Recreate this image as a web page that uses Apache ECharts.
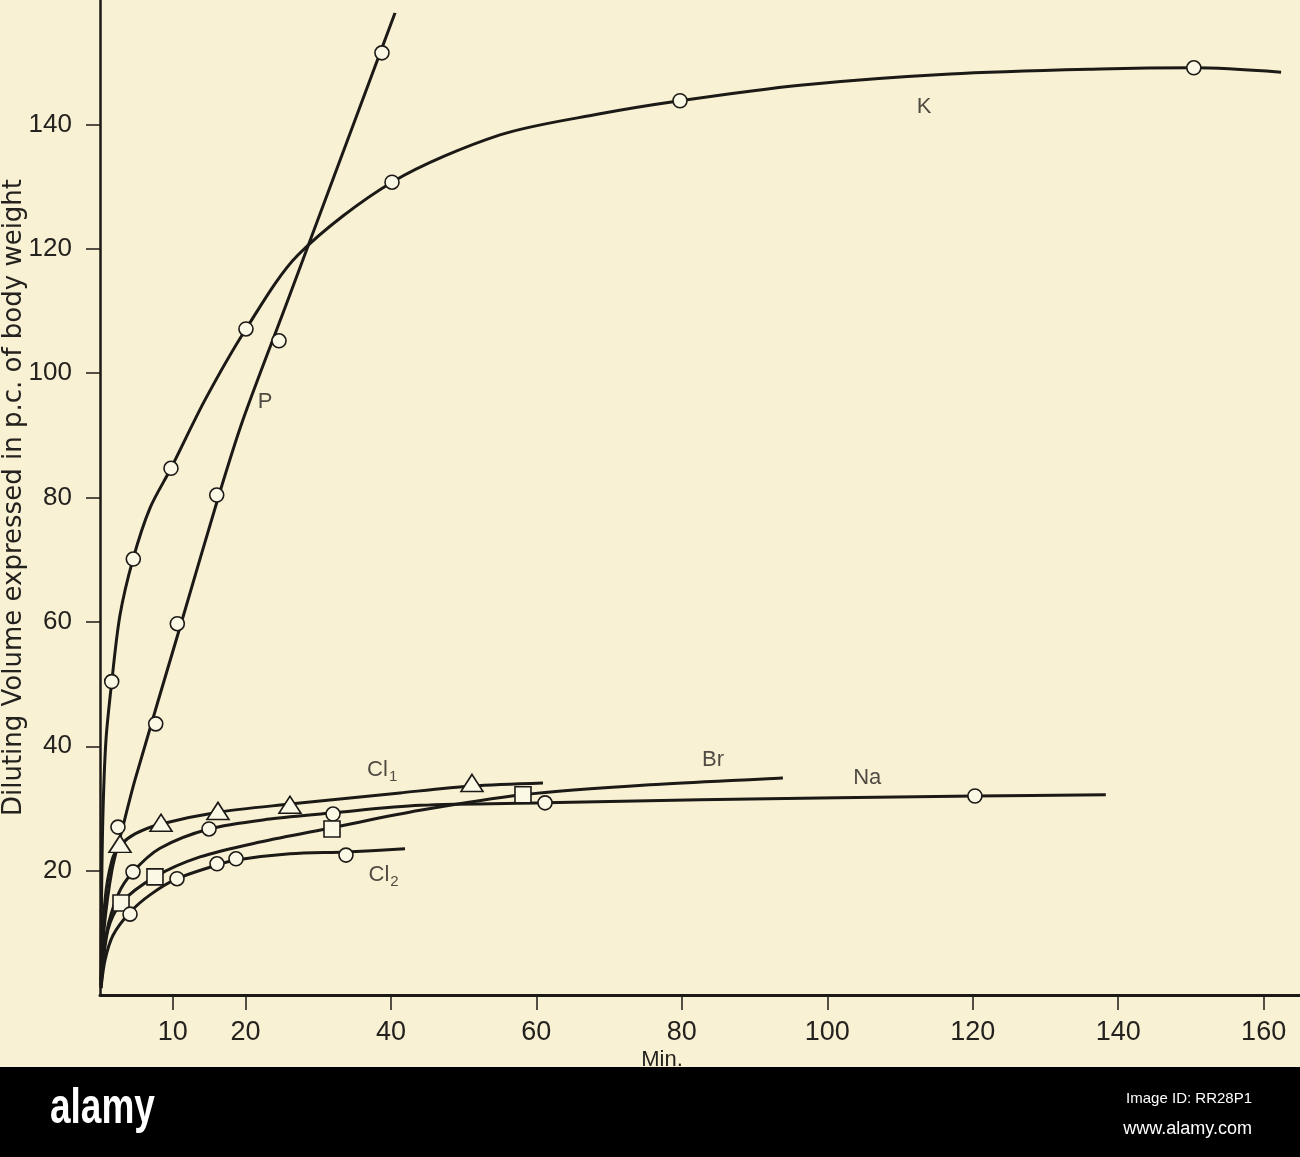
<!DOCTYPE html>
<html><head><meta charset="utf-8">
<script src="https://cdn.jsdelivr.net/npm/echarts@6/dist/echarts.min.js"></script>
<style>html,body{margin:0;padding:0;background:#f9f1d3}#c{width:1300px;height:1157px}</style>
</head><body><div id="c"></div>
<script>
// ---- axis ticks ----
const xTicks = [10, 20, 40, 60, 80, 100, 120, 140, 160];
const yTicks = [20, 40, 60, 80, 100, 120, 140];

// ---- K (circles) ----
const kPoints = [[1.61,50.4],[4.58,70.1],[9.76,84.7],[20.07,107.1],[40.15,130.7],[79.75,143.8],[150.4,149.1]];
const kCurve = [[0.14,1.6],[0.21,15.3],[0.41,29.3],[0.82,41.0],[1.61,50.3],[2.75,61.1],[4.54,70.1],[6.87,78.3],[9.76,84.7],[14.44,95.7],[20.07,107.1],[27.22,119.0],[40.15,130.7],[55.0,138.3],[68.75,141.7],[79.75,143.8],[96.25,146.3],[116.9,148.1],[137.5,148.9],[150.4,149.1],[162.4,148.4]];

// ---- P (circles) ----
const pPoints = [[2.47,27.0],[7.66,43.6],[10.63,59.7],[16.05,80.4],[24.61,105.2],[38.77,151.5]];
const pCurve = [[0.14,1.6],[0.55,10.5],[1.65,20.1],[3.02,26.5],[4.81,34.6],[11.14,59.7],[16.36,80.4],[19.66,92.5],[25.85,111.8],[40.56,157.9]];

// ---- Cl1 (triangles) ----
const cl1Points = [[2.75,24.3],[8.39,27.7],[16.22,29.6],[26.12,30.6],[51.15,34.1]];
const cl1Curve = [[0.14,2.4],[0.69,15.3],[1.65,21.7],[2.75,24.0],[4.81,25.9],[8.39,27.5],[16.22,29.4],[26.12,30.7],[41.25,32.5],[51.15,33.6],[60.91,34.1]];

// ---- Na (circles) ----
const naPoints = [[4.54,19.8],[14.99,26.7],[32.04,29.1],[61.19,30.9],[120.3,32.0]];
const naCurve = [[0.14,1.6],[0.82,9.6],[2.47,16.1],[4.54,19.8],[8.25,23.6],[14.99,26.7],[23.37,28.3],[32.04,29.3],[44.0,30.5],[61.19,30.9],[82.5,31.4],[120.3,32.0],[138.3,32.2]];

// ---- Br (squares) ----
const brPoints = [[2.89,14.8],[7.56,19.0],[31.9,26.7],[58.16,32.2]];
const brCurve = [[0.14,1.1],[1.1,10.5],[2.89,14.8],[7.56,19.0],[13.75,22.2],[22.0,24.6],[31.9,26.9],[44.0,29.7],[58.16,32.2],[75.6,33.8],[93.9,34.9]];

// ---- Cl2 (circles) ----
const cl2Points = [[4.13,13.0],[10.59,18.7],[16.09,21.1],[18.7,21.9],[33.82,22.5]];
const cl2Curve = [[0.14,1.1],[0.69,5.6],[1.79,9.6],[4.13,13.3],[6.88,16.1],[10.59,18.7],[16.09,20.9],[18.7,21.7],[26.12,22.7],[33.82,23.0],[41.94,23.5]];

// ---- curve labels (data coords) ----
const curveLabels = [[113.3,142.8,'K'],[22.7,95.3,'P'],[38.8,36.2,'Cl1'],[39.0,19.3,'Cl2'],[84.3,37.8,'Br'],[105.5,34.9,'Na']];

const INK = '#1c1a17';
const TXT = '#24221f';
const PAPER = '#f9f1d3';
const FONT = 'Liberation Sans';

function curve(name, data) {
  return { name: name, type: 'line', data: data, smooth: 0.3,
    symbol: 'none', lineStyle: { color: INK, width: 3 }, z: 2, silent: true };
}
function marks(name, data, symbol, size) {
  return { name: name, type: 'scatter', data: data, symbol: symbol, symbolSize: size,
    itemStyle: { color: '#fcf8e6', borderColor: INK, borderWidth: 1.6, opacity: 1 }, z: 4 };
}

const chart = echarts.init(document.getElementById('c'));
chart.setOption({
  backgroundColor: PAPER,
  animation: false,
  grid: { left: 100, right: 0, top: 0, bottom: 162, containLabel: false, outerBoundsMode: 'none' },
  xAxis: {
    type: 'value', min: 0, max: 165,
    name: 'Min.', nameLocation: 'middle', nameGap: 54, nameMoveOverlap: false,
    nameTextStyle: { fontFamily: FONT, fontSize: 22, color: TXT, padding: [0, 76, 0, 0] },
    axisLine: { show: true, lineStyle: { color: INK, width: 3 } },
    axisTick: { show: true, customValues: xTicks, length: 15, lineStyle: { color: INK, width: 1.5 } },
    axisLabel: { customValues: xTicks, margin: 24, fontFamily: FONT, fontSize: 27, color: TXT },
    splitLine: { show: false }
  },
  yAxis: {
    type: 'value', min: 0, max: 160,
    name: 'Diluting Volume expressed in p.c. of body weight',
    nameLocation: 'middle', nameGap: 73, nameRotate: 90, nameMoveOverlap: false,
    nameTextStyle: { fontFamily: 'DejaVu Sans', fontSize: 26, color: TXT },
    axisLine: { show: true, lineStyle: { color: INK, width: 2.5 } },
    axisTick: { show: true, customValues: yTicks, length: 14, lineStyle: { color: INK, width: 1.5 } },
    axisLabel: { customValues: yTicks, margin: 28, fontFamily: FONT, fontSize: 26, color: TXT },
    splitLine: { show: false }
  },
  series: [
    curve('K', kCurve), marks('K pts', kPoints, 'circle', 14),
    curve('P', pCurve), marks('P pts', pPoints, 'circle', 14),
    curve('Cl1', cl1Curve), marks('Cl1 pts', cl1Points, 'triangle', [22, 17]),
    curve('Na', naCurve), marks('Na pts', naPoints, 'circle', 14),
    curve('Br', brCurve), marks('Br pts', brPoints, 'rect', 16),
    curve('Cl2', cl2Curve), marks('Cl2 pts', cl2Points, 'circle', 14),
    {
      name: 'labels', type: 'scatter', data: curveLabels, symbol: 'circle', symbolSize: 1,
      itemStyle: { color: 'rgba(0,0,0,0)' }, z: 5, silent: true,
      label: {
        show: true, position: 'inside', fontFamily: FONT, fontSize: 22, color: TXT,
        textBorderWidth: 0,
        formatter: function (p) {
          const t = p.value[2];
          if (t === 'Cl1') return '{m|Cl}{s|1}';
          if (t === 'Cl2') return '{m|Cl}{s|2}';
          return t;
        },
        rich: {
          m: { fontFamily: FONT, fontSize: 22, color: TXT, textBorderWidth: 0 },
          s: { fontFamily: FONT, fontSize: 15, color: TXT, textBorderWidth: 0, padding: [14, 0, 0, 1] }
        }
      }
    }
  ],
  graphic: [
    { type: 'rect', left: 0, top: 1067, z: 100, shape: { width: 1300, height: 90 }, style: { fill: '#000' } },
    { type: 'text', x: 50, y: 1084, z: 101, scaleX: 0.74, style: { text: 'alamy', fill: '#fff', font: 'bold 50px "Liberation Sans", sans-serif' } },
    { type: 'text', right: 48, top: 1091, z: 101, style: { text: 'Image ID: RR28P1', fill: '#fff', font: '15px "Liberation Sans", sans-serif' } },
    { type: 'text', right: 48, top: 1120, z: 101, style: { text: 'www.alamy.com', fill: '#fff', font: '18px "Liberation Sans", sans-serif' } }
  ]
});
</script>
</body></html>
